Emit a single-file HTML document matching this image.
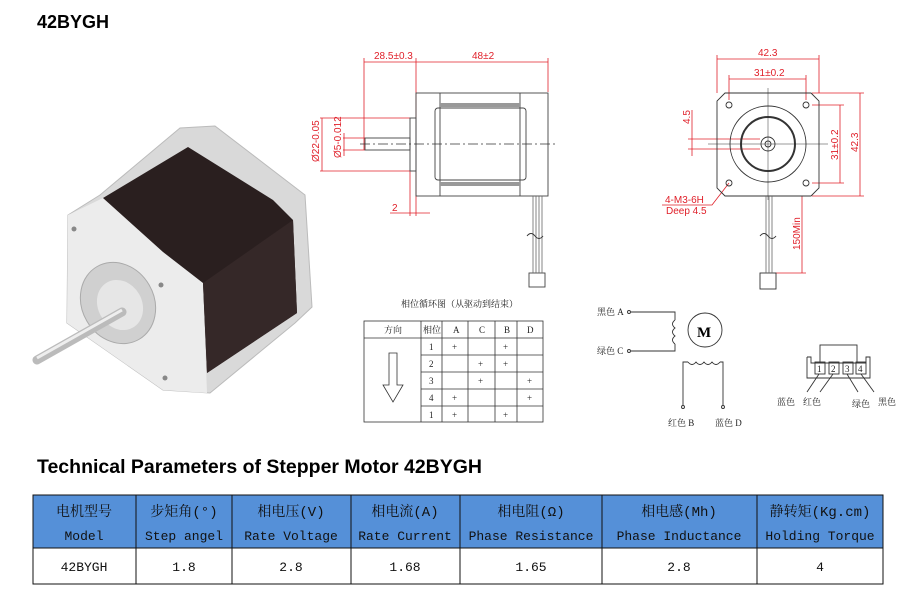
<!DOCTYPE html>
<html><head><meta charset="utf-8"><style>
body{margin:0;background:#fff;width:909px;height:605px;overflow:hidden}
svg{display:block}
.r{fill:#e0202a;font-family:"Liberation Sans",sans-serif;font-size:10px}
.c{font-family:"Liberation Serif","Noto Serif CJK SC",serif;font-size:9px;fill:#222}
.t{font-family:"Liberation Mono","Noto Serif CJK SC",monospace;font-size:13px;fill:#111}
.h{font-family:"Liberation Mono","Noto Serif CJK SC",monospace;font-size:14px;fill:#111}
</style></head><body>
<svg width="909" height="605" viewBox="0 0 909 605" xmlns="http://www.w3.org/2000/svg">
<text x="37" y="28" font-family="Liberation Sans,sans-serif" font-weight="bold" font-size="18">42BYGH</text>

<!-- motor photo -->
<polygon points="68,215 100,195 180,128 215,126 305,195 312,307 295,323 210,393 163,390 67,323" fill="#d9d9d9" stroke="#bbb"/>
<polygon points="68,215 103,198 203,283 207,393 163,390 67,323" fill="#ececec"/>
<polygon points="103,198 188,147 273,200 293,220 297,313 207,373 203,283 163,252" fill="#2a1f1f"/>
<polygon points="203,283 293,220 297,313 207,373" fill="#352828"/>
<ellipse cx="118" cy="303" rx="36" ry="42" fill="#d0d0d0" stroke="#aaa" transform="rotate(-30 118 303)"/>
<ellipse cx="120" cy="305" rx="22" ry="26" fill="#e6e6e6" transform="rotate(-30 120 305)"/>
<line x1="122" y1="312" x2="37" y2="360" stroke="#bbb" stroke-width="9" stroke-linecap="round"/>
<line x1="122" y1="310" x2="37" y2="358" stroke="#eee" stroke-width="3"/>
<circle cx="74" cy="229" r="2.5" fill="#888"/><circle cx="161" cy="285" r="2.5" fill="#888"/><circle cx="165" cy="378" r="2.5" fill="#888"/>

<!-- side view -->
<g stroke="#e0202a" stroke-width="0.8" fill="none">
<line x1="364" y1="58" x2="364" y2="150"/><line x1="416" y1="58" x2="416" y2="216"/><line x1="548" y1="58" x2="548" y2="92"/>
<line x1="364" y1="62" x2="548" y2="62"/>
<line x1="320" y1="118" x2="410" y2="118"/><line x1="320" y1="171" x2="410" y2="171"/>
<line x1="322" y1="118" x2="322" y2="171"/>
<line x1="343" y1="138" x2="365" y2="138"/><line x1="343" y1="150" x2="365" y2="150"/><line x1="344" y1="133" x2="344" y2="156"/>
<line x1="410" y1="171" x2="410" y2="216"/><line x1="390" y1="213" x2="430" y2="213"/>
</g>
<text class="r" x="374" y="59">28.5±0.3</text><text class="r" x="472" y="59">48±2</text>
<text class="r" x="392" y="211">2</text>
<text class="r" transform="translate(319,162) rotate(-90)">Ø22-0.05</text>
<text class="r" transform="translate(341,158) rotate(-90)" font-size="8">Ø5-0.012</text>
<g stroke="#444" stroke-width="0.9" fill="none">
<rect x="416" y="93" width="132" height="103"/>
<line x1="440" y1="93" x2="440" y2="196"/><line x1="520" y1="93" x2="520" y2="196"/>
<rect x="435" y="108" width="91" height="72" rx="3"/>
<rect x="410" y="118" width="6" height="53"/>
<rect x="365" y="138" width="45" height="12"/>
<rect x="529" y="273" width="16" height="14"/>
</g>
<rect x="440" y="103" width="80" height="4" fill="#999"/><rect x="440" y="182" width="80" height="4" fill="#999"/>
<line x1="360" y1="144" x2="556" y2="144" stroke="#333" stroke-width="0.7" stroke-dasharray="10,3,2,3"/>
<g stroke="#666" stroke-width="0.8"><line x1="533" y1="196" x2="533" y2="273"/><line x1="536" y1="196" x2="536" y2="273"/><line x1="539" y1="196" x2="539" y2="273"/><line x1="542" y1="196" x2="542" y2="273"/></g>
<path d="M527 236 q4 -5 8 0 q4 5 8 0" stroke="#333" fill="none"/>

<!-- front view -->
<g stroke="#e0202a" stroke-width="0.8" fill="none">
<line x1="717" y1="55" x2="717" y2="93"/><line x1="819" y1="55" x2="819" y2="93"/><line x1="717" y1="59" x2="819" y2="59"/>
<line x1="729" y1="75" x2="729" y2="100"/><line x1="806" y1="75" x2="806" y2="100"/><line x1="729" y1="79" x2="806" y2="79"/>
<line x1="812" y1="105" x2="844" y2="105"/><line x1="812" y1="183" x2="844" y2="183"/><line x1="840" y1="105" x2="840" y2="183"/>
<line x1="812" y1="93" x2="864" y2="93"/><line x1="812" y1="196" x2="864" y2="196"/><line x1="860" y1="93" x2="860" y2="196"/>
<line x1="688" y1="139" x2="760" y2="139"/><line x1="688" y1="149" x2="760" y2="149"/><line x1="692" y1="110" x2="692" y2="156"/>
<polyline points="729,183 712,205 662,205"/>
<line x1="802" y1="196" x2="802" y2="273"/><line x1="775" y1="273" x2="806" y2="273"/>
</g>
<text class="r" x="758" y="56">42.3</text><text class="r" x="754" y="76">31±0.2</text>
<text class="r" transform="translate(838,160) rotate(-90)">31±0.2</text>
<text class="r" transform="translate(858,152) rotate(-90)">42.3</text>
<text class="r" transform="translate(690,124) rotate(-90)">4.5</text>
<text class="r" x="665" y="203">4-M3-6H</text><text class="r" x="666" y="214">Deep 4.5</text>
<text class="r" transform="translate(800,250) rotate(-90)">150Min</text>
<g stroke="#333" stroke-width="0.9" fill="none">
<polygon points="725,93 811,93 819,101 819,188 811,196 725,196 717,188 717,101"/>
<circle cx="768" cy="144" r="38"/><circle cx="768" cy="144" r="27" stroke-width="2"/>
<circle cx="768" cy="144" r="7"/><circle cx="768" cy="144" r="3"/>
<circle cx="729" cy="105" r="3"/><circle cx="806" cy="105" r="3"/><circle cx="729" cy="183" r="3"/><circle cx="806" cy="183" r="3"/>
<line x1="708" y1="144" x2="828" y2="144" stroke-width="0.5"/><line x1="768" y1="88" x2="768" y2="200" stroke-width="0.5"/>
<rect x="760" y="273" width="16" height="16"/>
</g>
<g stroke="#666" stroke-width="0.8"><line x1="766" y1="196" x2="766" y2="273"/><line x1="769" y1="196" x2="769" y2="273"/><line x1="772" y1="196" x2="772" y2="273"/></g>
<path d="M760 236 q4 -5 8 0 q4 5 8 0" stroke="#333" fill="none"/>

<!-- phase table -->
<text class="c" x="401" y="307">相位循环图（从驱动到结束）</text>
<g stroke="#333" stroke-width="0.8" fill="none">
<rect x="364" y="321" width="179" height="101"/>
<line x1="364" y1="338" x2="543" y2="338"/>
<line x1="421" y1="321" x2="421" y2="422"/><line x1="442" y1="321" x2="442" y2="422"/><line x1="468" y1="321" x2="468" y2="422"/><line x1="495" y1="321" x2="495" y2="422"/><line x1="517" y1="321" x2="517" y2="422"/>
<line x1="421" y1="355" x2="543" y2="355"/><line x1="421" y1="372" x2="543" y2="372"/><line x1="421" y1="389" x2="543" y2="389"/><line x1="421" y1="406" x2="543" y2="406"/>
<polygon points="389,353 397,353 397,385 403,385 393,402 383,385 389,385"/>
</g>
<g class="c"><text x="384" y="333">方向</text><text x="423" y="333">相位</text><text x="453" y="333">A</text><text x="479" y="333">C</text><text x="504" y="333">B</text><text x="527" y="333">D</text>
<text x="429" y="350">1</text><text x="429" y="367">2</text><text x="429" y="384">3</text><text x="429" y="401">4</text><text x="429" y="418">1</text>
<text x="452" y="350">+</text><text x="503" y="350">+</text><text x="478" y="367">+</text><text x="503" y="367">+</text><text x="478" y="384">+</text><text x="527" y="384">+</text><text x="452" y="401">+</text><text x="527" y="401">+</text><text x="452" y="418">+</text><text x="503" y="418">+</text></g>

<!-- wiring -->
<g stroke="#333" stroke-width="0.9" fill="none">
<circle cx="629" cy="312" r="1.5"/><circle cx="629" cy="351" r="1.5"/>
<polyline points="631,312 675,312 675,320"/><path d="M675 320 q-5 4 0 8 q-5 4 0 8 q-5 4 0 8"/><polyline points="675,344 675,351 631,351"/>
<circle cx="705" cy="330" r="17"/>
<polyline points="683,405 683,362 688,362"/><path d="M688 362 q4 5 8 0 q4 5 8 0 q4 5 8 0 q4 5 8 0"/><polyline points="720,362 723,362 723,405"/>
<circle cx="683" cy="407" r="1.5"/><circle cx="723" cy="407" r="1.5"/>
</g>
<text x="697" y="337" font-family="Liberation Serif,serif" font-size="15" font-weight="bold">M</text>
<g class="c"><text x="597" y="315">黑色 A</text><text x="597" y="354">绿色 C</text><text x="668" y="426">红色 B</text><text x="715" y="426">蓝色 D</text>
<text x="777" y="405">蓝色</text><text x="803" y="405">红色</text><text x="852" y="407">绿色</text><text x="878" y="405">黑色</text></g>
<g stroke="#333" stroke-width="0.9" fill="none">
<polyline points="807,357 807,378 870,378 870,357 866,357 866,363 811,363 811,357 807,357"/>
<rect x="820" y="345" width="37" height="18"/>
<rect x="815" y="362" width="10" height="12"/><rect x="829" y="362" width="10" height="12"/><rect x="843" y="362" width="10" height="12"/><rect x="856" y="362" width="10" height="12"/>
<line x1="819" y1="374" x2="807" y2="392"/><line x1="833" y1="374" x2="820" y2="392"/><line x1="847" y1="374" x2="858" y2="392"/><line x1="861" y1="374" x2="874" y2="392"/>
</g>
<g class="c"><text x="817" y="372">1</text><text x="831" y="372">2</text><text x="845" y="372">3</text><text x="858" y="372">4</text></g>

<text x="37" y="473" font-family="Liberation Sans,sans-serif" font-weight="bold" font-size="19.5">Technical Parameters of Stepper Motor 42BYGH</text>

<!-- param table -->
<rect x="33" y="495" width="850" height="53" fill="#5590d8"/>
<g stroke="#111" stroke-width="1" fill="none">
<rect x="33" y="495" width="850" height="89"/><line x1="33" y1="548" x2="883" y2="548"/>
<line x1="136" y1="495" x2="136" y2="584"/><line x1="232" y1="495" x2="232" y2="584"/><line x1="351" y1="495" x2="351" y2="584"/><line x1="460" y1="495" x2="460" y2="584"/><line x1="602" y1="495" x2="602" y2="584"/><line x1="757" y1="495" x2="757" y2="584"/>
</g>
<g class="h" text-anchor="middle">
<text x="84" y="516">电机型号</text><text x="184" y="516">步矩角(°)</text><text x="291" y="516">相电压(V)</text><text x="405" y="516">相电流(A)</text><text x="531" y="516">相电阻(Ω)</text><text x="679" y="516">相电感(Mh)</text><text x="820" y="516">静转矩(Kg.cm)</text>
</g>
<g class="t" text-anchor="middle">
<text x="84" y="540">Model</text><text x="184" y="540">Step angel</text><text x="291" y="540">Rate Voltage</text><text x="405" y="540">Rate Current</text><text x="531" y="540">Phase Resistance</text><text x="679" y="540">Phase Inductance</text><text x="820" y="540">Holding Torque</text>
<text x="84" y="571">42BYGH</text><text x="184" y="571">1.8</text><text x="291" y="571">2.8</text><text x="405" y="571">1.68</text><text x="531" y="571">1.65</text><text x="679" y="571">2.8</text><text x="820" y="571">4</text>
</g>
</svg>
</body></html>
